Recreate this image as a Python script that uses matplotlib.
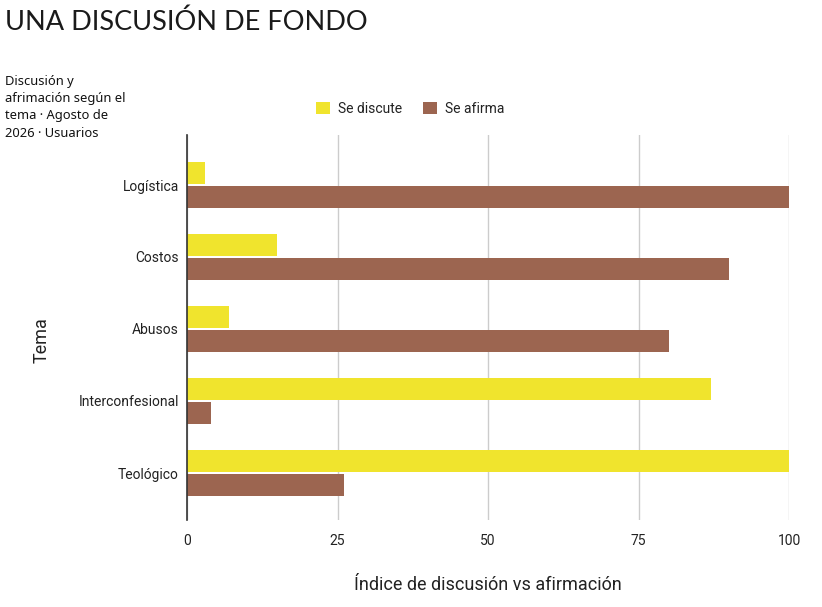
import matplotlib
matplotlib.use("Agg")
import matplotlib.pyplot as plt
import numpy as np

categories = ["Logística", "Costos", "Abusos", "Interconfesional", "Teológico"]
se_discute = [3, 15, 7, 87, 100]
se_afirma = [100, 90, 80, 4, 26]
series_names = ["Se discute", "Se afirma"]
colors = ["#F0E42D", "#9C6550"]
xticks = [0, 25, 50, 75, 100]

fig = plt.figure(figsize=(8.22, 6.07), dpi=100)
ax = fig.add_axes([187/822, 1-520/607, (789-187)/822, (520-135)/607])

y = np.arange(len(categories))
h = 0.3
off = 0.168
ax.barh(y - off, se_discute, height=h, color=colors[0], label=series_names[0], zorder=3)
ax.barh(y + off, se_afirma, height=h, color=colors[1], label=series_names[1], zorder=3)

ax.set_xlim(0, 100)
ax.set_ylim(4 + 47/72, -50/72)
ax.set_yticks(y)
ax.set_yticklabels(categories, fontfamily="Roboto", fontsize=10, color="#222222")
ax.set_xticks(xticks)
ax.set_xticklabels([str(t) for t in xticks], fontfamily="Roboto", fontsize=10, color="#222222")
ax.tick_params(length=0, pad=6)
ax.tick_params(axis="x", pad=10)
ax.grid(axis="x", color="#cccccc", linewidth=1, zorder=0)
for s in ["top", "right", "bottom"]:
    ax.spines[s].set_visible(False)
ax.spines["left"].set_color("#333333")
ax.spines["left"].set_linewidth(1.2)
ax.spines["left"].set_zorder(4)

ax.set_xlabel("Índice de discusión vs afirmación", fontfamily="Roboto", fontsize=13, color="#222222", labelpad=20)
fig.text(42/822, 1-340/607, "Tema", rotation=90, ha="center", va="center", fontfamily="Roboto", fontsize=13, color="#222222")

leg = fig.legend(loc="center", bbox_to_anchor=(410/822, 1-109/607), ncol=2, frameon=False,
                 prop={"family": "Roboto", "size": 10}, handlelength=1.0, handleheight=1.0,
                 columnspacing=1.5, handletextpad=0.6)
for t in leg.get_texts():
    t.set_color("#222222")

fig.text(5/822, 1-22/607, "UNA DISCUSIÓN DE FONDO", fontfamily="Lato", fontweight="normal",
         fontsize=19.5, va="center", ha="left", color="#1a1a1a")
fig.text(5/822, 1-75/607, "Discusión y\nafrimación según el\ntema · Agosto de\n2026 · Usuarios",
         fontfamily="Noto Sans", fontsize=9.3, va="top", ha="left", color="#111111", linespacing=1.42)

fig.savefig("out.png", dpi=100, facecolor="white")
